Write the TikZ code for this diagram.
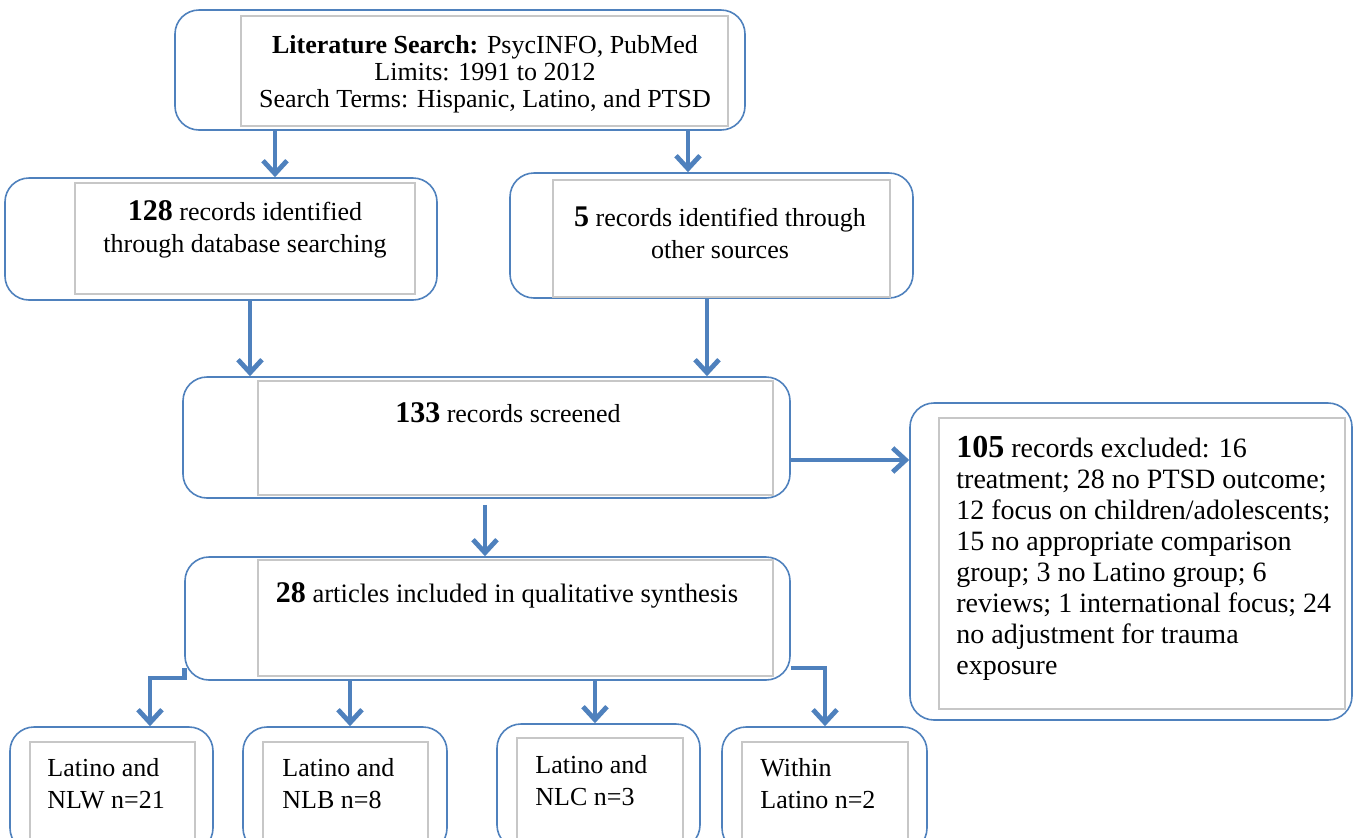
\documentclass[tikz,border=0pt]{standalone}
\usepackage{fontspec}
\setmainfont{Liberation Serif}
\usetikzlibrary{positioning,arrows.meta}

\definecolor{boxblue}{HTML}{4F81BD}
\newcommand\bnum[1]{{\fontsize{15}{16}\selectfont\bfseries #1}}

\begin{document}
\begin{tikzpicture}[x=0.5pt,y=-0.5pt,
  outer/.style={draw=boxblue, line width=0.8pt, rounded corners=12pt, inner sep=0pt},
  inner/.style={draw=black!22, line width=1.1pt, fill=white, inner sep=0pt},
  txt/.style={font=\fontsize{13}{16}\selectfont, align=center, inner sep=0pt},
  arr/.style={draw=boxblue, line width=2.4pt, -{Straight Barb[length=6.5pt,width=12pt]}}]
\useasboundingbox (0,0) rectangle (1356,837);
\clip (0,0) rectangle (1356,837);

% search
\node[outer, minimum width=285pt, minimum height=60pt] (lit) at (460,70) {};
\node[inner, minimum width=243.5pt, minimum height=55pt] (litbox) at (484.5,71) {};
\node[txt, font=\fontsize{13}{13.5}\selectfont] (littxt) at (485,74)
  {\textbf{Literature Search:} PsycINFO, PubMed\\ Limits: 1991 to 2012\\ Search Terms: Hispanic, Latino, and PTSD};

% identified
\node[outer, minimum width=216pt, minimum height=61pt] (o128) at (221,239) {};
\node[inner, minimum width=170pt, minimum height=55.5pt] (r128) at (245,238.5) {};
\node[txt] (t128) at (245,229) {\bnum{128} records identified\\ through database searching};

\node[outer, minimum width=201.5pt, minimum height=62.5pt] (o5) at (711.5,235.5) {};
\node[inner, minimum width=168.5pt, minimum height=58.5pt] (r5) at (721.5,238.5) {};
\node[txt] (t5) at (720,233) {\bnum{5} records identified through\\ other sources};

% screened
\node[outer, minimum width=303.5pt, minimum height=60.5pt] (o133) at (486.5,437.5) {};
\node[inner, minimum width=257.5pt, minimum height=57pt] (r133) at (515.5,438) {};
\node[txt] (t133) at (508,413) {\bnum{133} records screened};

% excluded
\node[outer, minimum width=221pt, minimum height=158.5pt] (o105) at (1131,561.5) {};
\node[inner, minimum width=203pt, minimum height=145.5pt] (r105) at (1142,563.5) {};
\node[txt, align=left, anchor=north west, font=\fontsize{14}{15.5}\selectfont] (t105) at (956,436)
  {{\fontsize{16}{16}\selectfont\bfseries 105} records excluded: 16\\ treatment; 28 no PTSD outcome;\\ 12 focus on children/adolescents;\\
   15 no appropriate comparison\\ group; 3 no Latino group; 6\\ reviews; 1 international focus; 24\\
   no adjustment for trauma\\ exposure};

% included
\node[outer, minimum width=302.5pt, minimum height=61.5pt] (o28) at (487.5,618.5) {};
\node[inner, minimum width=257.5pt, minimum height=58pt] (r28) at (515.5,618) {};
\node[txt, font=\fontsize{13.3}{16}\selectfont] (t28) at (507,595) {\bnum{28} articles included in qualitative synthesis};

% groups
\node[outer, minimum width=101.5pt, minimum height=62.5pt] (b1) at (111.5,789.5) {};
\node[inner, minimum width=82.5pt, minimum height=51.5pt] (r1) at (112.5,793.5) {};
\node[txt, align=left, anchor=west] (t1) at (47,784) {Latino and\\ NLW n=21};

\node[outer, minimum width=102pt, minimum height=62.5pt] (b2) at (345,789.5) {};
\node[inner, minimum width=82.5pt, minimum height=51.5pt] (r2) at (345.5,793.5) {};
\node[txt, align=left, anchor=west] (t2) at (282,784) {Latino and\\ NLB n=8};

\node[outer, minimum width=101.5pt, minimum height=62.5pt] (b3) at (598.5,786.5) {};
\node[inner, minimum width=83pt, minimum height=52.5pt] (r3) at (600,790.5) {};
\node[txt, align=left, anchor=west] (t3) at (535,781) {Latino and\\ NLC n=3};

\node[outer, minimum width=102.5pt, minimum height=62.5pt] (b4) at (824.5,789.5) {};
\node[inner, minimum width=83pt, minimum height=51.5pt] (r4) at (825,793.5) {};
\node[txt, align=left, anchor=west] (t4) at (760,784) {Within\\ Latino n=2};

% arrows
\draw[arr] (lit.south -| 275,0) -- (o128.north -| 275,0);
\draw[arr] (lit.south -| 688,0) -- (o5.north -| 688,0);
\draw[arr] (o128.south -| 250,0) -- (o133.north -| 250,0);
\draw[arr] (o5.south -| 707,0) -- (o133.north -| 707,0);
\draw[arr] (o133.east |- 0,460) -- (o105.west |- 0,460);
\draw[arr, shorten <=3pt] (o133.south -| 485,0) -- (o28.north -| 485,0);
\draw[arr] (o28.west |- 0,668) -- ++(0,10) -| (b1.north -| 150,0);
\draw[arr] (o28.south -| 350,0) -- (b2.north -| 350,0);
\draw[arr] (o28.south -| 595,0) -- (b3.north -| 595,0);
\draw[arr] (o28.east |- 0,668) -| (b4.north -| 825,0);
\end{tikzpicture}
\end{document}
